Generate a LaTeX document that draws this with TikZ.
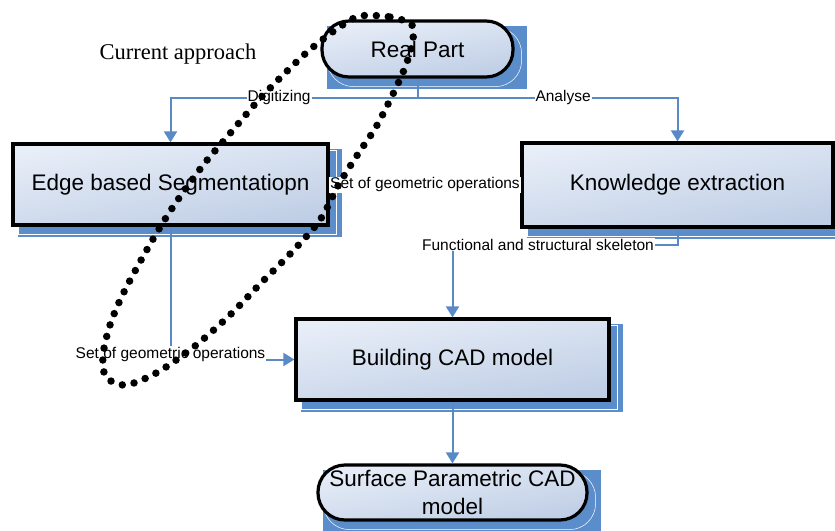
\documentclass[tikz,border=0pt]{standalone}
\usepackage{fontspec}
\setmainfont{Liberation Sans}
\newfontfamily\apprfont{Liberation Serif}
\usetikzlibrary{arrows.meta,calc,backgrounds}

\definecolor{shadowblue}{HTML}{5B8DCB}
\definecolor{linkblue}{HTML}{5A8AC6}
\definecolor{boxlight}{HTML}{E8EEF8}
\definecolor{boxdark}{HTML}{BFCEE5}

\tikzset{
  stage/.style={draw=black, line width=3.2pt, top color=boxlight, bottom color=boxdark,
    shading angle=10, align=center, inner sep=0pt,
    font=\fontsize{22.5}{28}\selectfont},
  pill/.style={rounded corners=27pt},
  link/.style={draw=linkblue, line width=2pt},
  tip/.style={-{Triangle[width=13pt,length=11pt]}},
  tag/.style={fill=white, inner sep=1pt, font=\fontsize{15.5}{17}\selectfont}
}

\begin{document}
\begin{tikzpicture}[x=1pt, y=-1pt]
  \useasboundingbox (0,0) rectangle (835,530);

  \node[stage, pill, minimum width=191pt, minimum height=56pt] (real) at (417.5,49) {Real Part};
  \node[stage, minimum width=315pt, minimum height=81pt] (edge) at (170.5,184.5) {Edge based Segmentatiopn};
  \node[stage, minimum width=311pt, minimum height=84pt] (know) at (677.5,185) {Knowledge extraction};
  \node[stage, minimum width=313pt, minimum height=81pt] (build) at (452.5,359.5) {Building CAD model};
  \node[stage, pill, minimum width=269pt, minimum height=55pt] (surf) at (452.5,492.5) {Surface Parametric CAD\\model};

  \begin{scope}[on background layer]
    \foreach \n/\r in {real/26pt, edge/0pt, know/0pt, build/0pt, surf/26pt} {
      \fill[shadowblue] ($(\n.north west)+(7,7)$) rectangle ($(\n.south east)+(12,10)$);
      \draw[white, line width=0.5pt, rounded corners=\r] ($(\n.north west)+(7,8)$) rectangle ($(\n.south east)+(7,8)$);
    }
  \end{scope}

  \draw[link, tip] (real.south) -- ++(0,19) -| node[tag, pos=0.28] {Digitizing} (edge.north);
  \draw[link, tip] (real.south) -- ++(0,19) -| node[tag, pos=0.28] {Analyse} (know.north);
  \draw[link] (edge.east) -- node[tag] {Set of geometric operations} (know.west);
  \draw[link, tip] (know.south) -- ++(0,16) -| node[tag, pos=0.31] {Functional and structural skeleton} (build.north);
  \draw[link, tip] (edge.south) |- node[tag, pos=0.5, yshift=5pt] {Set of geometric operations} (build.west);
  \draw[link, tip] (build.south) -- (surf.north);

  \node[font=\apprfont\fontsize{22.5}{25}\selectfont] (title) at (178,54) {Current approach};

  % hand drawn loop round the current approach
  \draw[line width=7.5pt, dash pattern=on 0pt off 12pt, line cap=round]
    plot[smooth cycle] coordinates {(360,16) (390,17) (412,25) (412,45) (404,70) (392,96)
      (376,127) (358,154) (339,184) (320,220) (291,253) (261,283) (230,315) (195,346)
      (158,372) (126,385) (106,377) (103,355) (110,325) (122,296) (140,262) (159,229)
      (177,201) (204,164) (227,137) (256,103) (280,78) (305,54) (322,40) (341,26)};
\end{tikzpicture}
\end{document}
